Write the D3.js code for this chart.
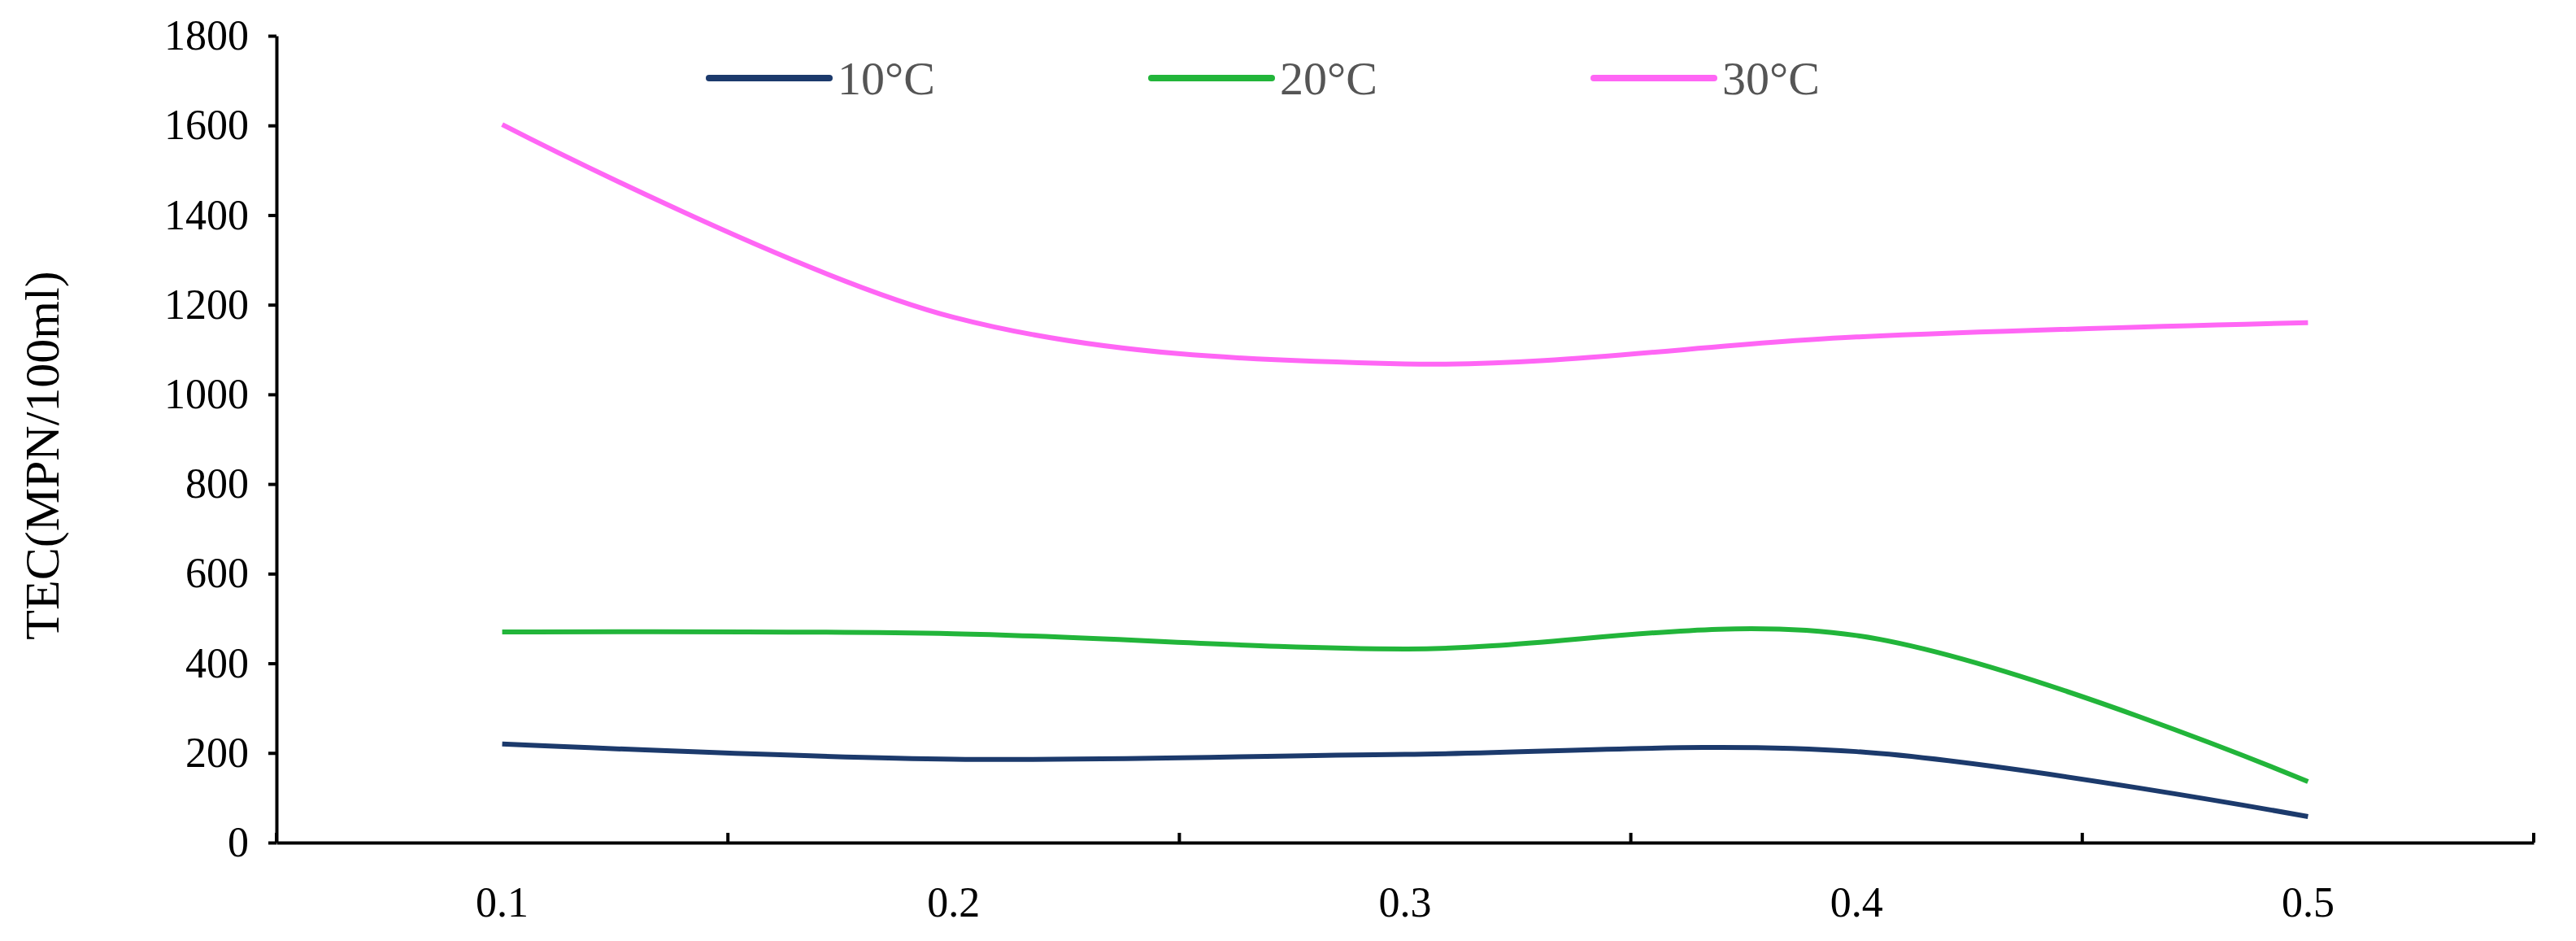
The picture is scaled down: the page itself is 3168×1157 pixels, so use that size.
<!DOCTYPE html>
<html><head><meta charset="utf-8">
<script src="https://cdn.jsdelivr.net/npm/d3@7"></script>
<style>body{margin:0;background:#fff}</style></head>
<body><svg id="c" width="3168" height="1157"></svg>
<script>
const categories = ["0.1","0.2","0.3","0.4","0.5"];
const seriesNames = ["10°C","20°C","30°C"];
const s10 = [220, 186, 197, 203, 58];
const s20 = [470, 466, 432, 462, 136];
const s30 = [1602, 1172, 1068, 1128, 1160];
const yTicks = [0,200,400,600,800,1000,1200,1400,1600,1800];
const colors = ["#1c3a6c","#22b53a","#ff66f5"];

const svg = d3.select("#c");
const L=340, R=3116, T=44, B=1036;
const x = d3.scaleBand().domain(categories).range([L,R]);
const y = d3.scaleLinear().domain([0,1800]).range([B,T]);
const font = "'Liberation Serif', serif";

const ya = svg.append("g").attr("transform",`translate(${L},0)`)
  .call(d3.axisLeft(y).tickValues(yTicks).tickFormat(d3.format("d")).tickSize(8).tickSizeOuter(0).tickPadding(26));
const xa = svg.append("g").attr("transform",`translate(0,${B})`)
  .call(d3.axisBottom(x).tickSize(0).tickPadding(54));
[ya,xa].forEach(a=>{a.attr("font-family",font).attr("font-size",52);
  a.selectAll("path").attr("stroke","#000").attr("stroke-width",4);
  a.selectAll("line").attr("stroke","#000").attr("stroke-width",4);
  a.selectAll("text").attr("fill","#000");});
ya.selectAll(".tick line").attr("x1",0).attr("x2",-10);
const edges = categories.map(c=>x(c)).concat([R]);
svg.append("g").selectAll("line").data(edges).join("line")
  .attr("x1",d=>d).attr("x2",d=>d).attr("y1",B).attr("y2",B-12)
  .attr("stroke","#000").attr("stroke-width",4);

svg.append("text").attr("transform",`translate(72,${(T+B)/2+20}) rotate(-90)`)
  .attr("text-anchor","middle").attr("font-family",font).attr("font-size",60)
  .text("TEC(MPN/100ml)");

const line = d3.line().x((d,i)=>x(categories[i])+x.bandwidth()/2).y(d=>y(d)).curve(d3.curveCatmullRom.alpha(0.5));
[s10,s20,s30].forEach((s,i)=>{
  svg.append("path").datum(s).attr("d",line).attr("fill","none")
    .attr("stroke",colors[i]).attr("stroke-width",6);
});

const lg = [872,1416,1960];
seriesNames.forEach((n,i)=>{
  svg.append("line").attr("x1",lg[i]).attr("x2",lg[i]+148).attr("y1",96).attr("y2",96)
    .attr("stroke",colors[i]).attr("stroke-width",8).attr("stroke-linecap","round");
  svg.append("text").attr("x",lg[i]+158).attr("y",116).attr("font-family",font)
    .attr("font-size",58).attr("fill","#555").text(n);
});
</script></body></html>
